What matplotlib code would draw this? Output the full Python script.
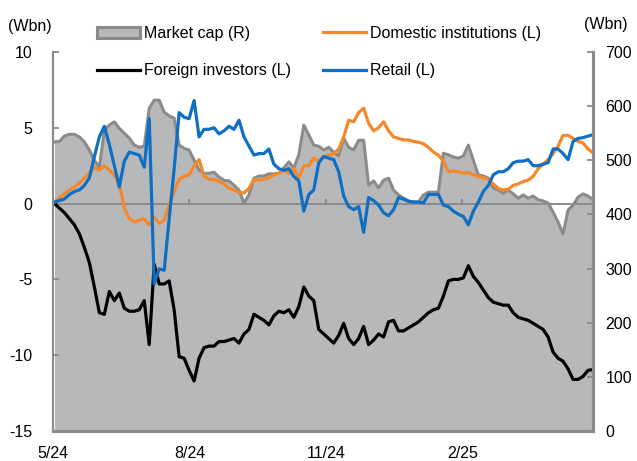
import matplotlib
matplotlib.use("Agg")
import matplotlib.pyplot as plt
import matplotlib.patches as mpatches
import numpy as np
import pandas as pd

plt.rcParams['font.family'] = ['Liberation Sans', 'DejaVu Sans']

# Cumulative net buying (Wbn), left axis
foreign = [0.0, -0.3, -0.6, -1.0, -1.4, -2.0, -2.9, -3.9, -5.5, -7.2,
           -7.3, -5.8, -6.4, -5.9, -6.9, -7.1, -7.1, -7.0, -6.4, -9.3,
           -4.0, -5.3, -5.3, -5.1, -7.0, -10.1, -10.2, -11.0, -11.7, -10.2,
           -9.5, -9.4, -9.4, -9.1, -9.1, -9.0, -8.9, -9.2, -8.6, -8.3,
           -7.3, -7.5, -7.7, -8.0, -7.4, -7.1, -7.2, -7.0, -7.5, -6.8,
           -5.5, -6.1, -6.4, -8.3, -8.6, -8.9, -9.2, -8.7, -7.9, -8.9,
           -9.3, -8.9, -8.1, -9.3, -9.0, -8.6, -8.8, -7.8, -7.7, -8.4,
           -8.4, -8.2, -8.0, -7.8, -7.5, -7.2, -7.0, -6.9, -6.1, -5.1,
           -5.0, -5.0, -4.9, -4.1, -4.8, -5.2, -5.7, -6.2, -6.5, -6.6,
           -6.7, -6.7, -7.2, -7.5, -7.6, -7.7, -7.9, -8.1, -8.3, -8.8,
           -9.8, -10.2, -10.4, -10.9, -11.6, -11.6, -11.4, -11.0, -10.95]

domestic = [0.1, 0.4, 0.65, 0.9, 1.1, 1.35, 1.7, 2.0, 2.4, 2.2,
            2.5, 2.2, 1.9, 1.3, -0.3, -1.0, -1.2, -1.1, -1.0, -1.4,
            -0.9, -1.3, -1.1, -0.1, 0.8, 1.6, 1.8, 1.9, 2.5, 2.9,
            1.8, 1.6, 1.6, 1.45, 1.3, 1.0, 0.9, 0.75, 0.7, 1.0,
            1.6, 1.55, 1.6, 1.7, 1.9, 2.0, 2.2, 2.0, 2.3, 1.7,
            2.5, 2.5, 3.0, 2.8, 3.1, 3.2, 3.3, 3.6, 4.4, 5.5,
            5.4, 6.0, 6.3, 5.3, 4.8, 5.0, 5.4, 4.8, 4.4, 4.3,
            4.2, 4.2, 4.1, 4.05, 3.95, 3.7, 3.4, 3.2, 2.8, 2.1,
            2.15, 2.1, 2.0, 2.05, 1.9, 1.8, 1.7, 1.6, 1.3, 1.0,
            0.9, 0.95, 1.2, 1.3, 1.45, 1.55, 1.8, 2.3, 2.6, 2.9,
            3.3, 3.8, 4.5, 4.5, 4.3, 4.1, 4.0, 3.6, 3.35]

retail = [0.1, 0.2, 0.3, 0.6, 0.8, 0.9, 1.2, 1.7, 3.1, 4.4,
          5.1, 3.9, 2.5, 1.1, 2.8, 3.4, 3.3, 3.2, 2.4, 5.6,
          -5.3, -4.3, -4.4, -1.0, 2.3, 6.0, 5.7, 5.6, 6.8, 4.4,
          4.9, 4.9, 5.0, 4.6, 4.8, 5.1, 4.9, 5.5, 4.4, 3.8,
          3.2, 3.3, 3.3, 3.6, 2.6, 2.3, 2.2, 2.3, 1.8, 1.5,
          -0.5, 0.6, 0.9, 2.7, 3.1, 3.0, 2.9, 2.1, 0.5, -0.2,
          -0.4, -0.2, -1.9, 0.4, 0.2, -0.1, -0.6, -0.8, -0.4, 0.4,
          0.3, 0.15, 0.1, 0.1, 0.05, 0.6, 0.6, 0.6, -0.1, -0.2,
          -0.5, -0.7, -0.85, -1.4, -0.5, 0.1, 0.8, 1.2, 1.9, 2.1,
          2.1, 2.3, 2.7, 2.8, 2.8, 2.9, 2.5, 2.5, 2.6, 2.7,
          3.6, 3.6, 3.3, 2.9, 4.1, 4.3, 4.35, 4.45, 4.55]

# Market cap (Wbn), right axis
mcap = [534, 535, 545, 548, 548, 543, 534, 519, 500, 487,
        556, 565, 571, 559, 550, 541, 528, 524, 526, 596,
        611, 611, 589, 582, 578, 528, 522, 519, 500, 482,
        476, 476, 478, 469, 463, 462, 454, 445, 421, 436,
        467, 471, 471, 475, 475, 476, 486, 497, 486, 510,
        565, 547, 528, 526, 519, 524, 515, 508, 541, 524,
        519, 537, 537, 454, 462, 449, 463, 467, 445, 436,
        430, 425, 423, 423, 436, 441, 441, 441, 513, 510,
        506, 504, 508, 528, 500, 473, 471, 467, 449, 445,
        439, 445, 438, 430, 436, 430, 434, 427, 425, 421,
        404, 386, 364, 408, 417, 432, 438, 434, 427]

dates = pd.date_range('2024-05-02', '2025-04-30', periods=len(foreign))

tick_dates = pd.to_datetime(['2024-05-01', '2024-08-01', '2024-11-01', '2025-02-01'])
tick_labels = ['5/24', '8/24', '11/24', '2/25']

c_fill = '#b7b8ba'
c_edge = '#8b8b8b'
c_orange = '#f4882a'
c_blue = '#0f6fc2'
fs = 11.5

fig = plt.figure(figsize=(6.37, 4.61), dpi=100)
ax = fig.add_axes([53/637, 30/461, 540/637, 379/461])
ax2 = ax.twinx()

ax2.fill_between(dates, 0, mcap, color=c_fill, lw=0)
ax2.plot(dates, mcap, color=c_edge, lw=2.2)
ax2.set_ylim(0, 700)

ax.set_zorder(ax2.get_zorder() + 1)
ax.patch.set_visible(False)

ax.axhline(0, color=c_edge, lw=1.4, zorder=1)
ax.vlines(tick_dates[1:], 0, 0.3, color=c_edge, lw=1.4, zorder=1)
ax.plot(dates, foreign, color='black', lw=2.3)
ax.plot(dates, domestic, color=c_orange, lw=2.3)
ax.plot(dates, retail, color=c_blue, lw=2.3)
ax.set_ylim(-15, 10)
ax.set_yticks([-15, -10, -5, 0, 5, 10])
ax.set_yticklabels(['-15', '-10', '-5', '0', '5', '10'])
ax2.set_yticks([0, 100, 200, 300, 400, 500, 600, 700])

ax.set_xlim(pd.Timestamp('2024-05-01'), pd.Timestamp('2025-04-30'))
ax.set_xticks(tick_dates)
ax.set_xticklabels(tick_labels)

for a in (ax, ax2):
    a.spines['top'].set_visible(False)
    for s in ('left', 'right', 'bottom'):
        a.spines[s].set_color(c_edge)
    a.spines['bottom'].set_linewidth(2.2)
    a.spines['right'].set_linewidth(2.2)
    a.spines['left'].set_linewidth(1.5)
ax.tick_params(axis='y', direction='in', length=4, width=1.3, color=c_edge,
               pad=15, labelsize=fs)
ax2.tick_params(axis='y', direction='in', length=4, width=1.3, color=c_edge,
                pad=9, labelsize=fs)
ax.tick_params(axis='x', length=0, pad=11, labelsize=fs)

fig.text(30/637, 1 - 27/461, '(Wbn)', ha='center', va='center', fontsize=fs)
fig.text(606/637, 1 - 25/461, '(Wbn)', ha='center', va='center', fontsize=fs)

h_mcap = mpatches.Patch(facecolor=c_fill, edgecolor=c_edge, lw=2.2)
h_for, = ax.plot([], [], color='black', lw=2.3)
h_dom, = ax.plot([], [], color=c_orange, lw=2.3)
h_ret, = ax.plot([], [], color=c_blue, lw=2.3)
leg_kw = dict(loc='upper left', frameon=False, fontsize=fs, borderpad=0,
              borderaxespad=0, handlelength=2.7, handletextpad=0.25,
              labelspacing=1.4)
leg1 = fig.legend([h_mcap, h_for], ['Market cap (R)', 'Foreign investors (L)'],
                  bbox_to_anchor=(97/637, 1 - 26/461), **leg_kw)
leg2 = fig.legend([h_dom, h_ret], ['Domestic institutions (L)', 'Retail (L)'],
                  bbox_to_anchor=(323/637, 1 - 26/461), **leg_kw)

fig.savefig('out.png', dpi=100)
